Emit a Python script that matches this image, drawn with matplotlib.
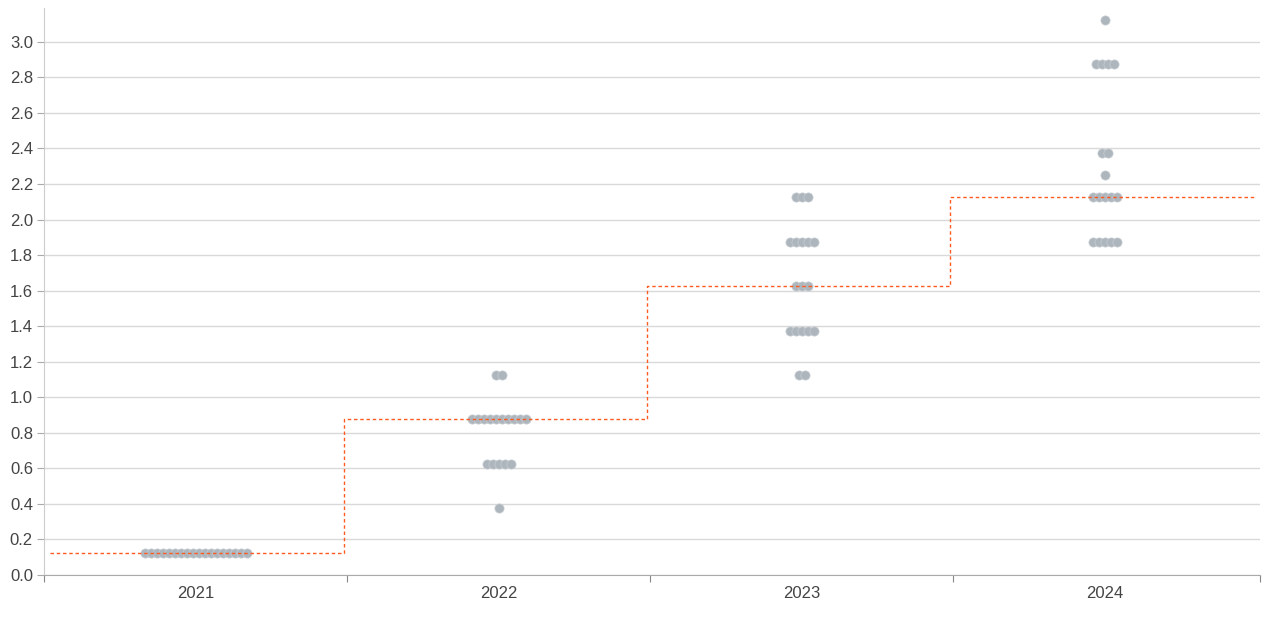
import matplotlib.pyplot as plt
import numpy as np
from matplotlib.ticker import FixedLocator, FormatStrFormatter

plt.rcParams['font.family'] = ['Liberation Sans', 'DejaVu Sans']

years = ['2021', '2022', '2023', '2024']
# projected rate levels and number of participants at each level
levels = [
    [0.125],
    [0.375, 0.625, 0.875, 1.125],
    [1.125, 1.375, 1.625, 1.875, 2.125],
    [1.875, 2.125, 2.25, 2.375, 2.875, 3.125],
]
counts = [
    [18],
    [1, 5, 10, 2],
    [2, 5, 3, 5, 3],
    [5, 5, 1, 2, 4, 1],
]
medians = [0.125, 0.875, 1.625, 2.125]

fig = plt.figure(figsize=(12.8, 6.19), dpi=100)
ax = fig.add_axes([0.0344, 0.0711, 1216 / 1280, 0.9160])

x_end = 3.513
dx = 0.0198  # horizontal spacing between stacked dots
for i in range(len(years)):
    for lv, n in zip(levels[i], counts[i]):
        xs = i + (np.arange(n) - (n - 1) / 2) * dx
        ax.scatter(xs, [lv] * n, s=44, c='#adb5bd', edgecolors='#c9ced3',
                   linewidths=0.5, zorder=3)

# median step line
edges = [-0.48] + [i + 0.49 for i in range(len(years) - 1)] + [3.5]
ax.step(edges, medians + [medians[-1]], where='post', color='#ff5a1f',
        lw=1.0, ls=(0, (2.5, 2)), zorder=4)

ax.set_xlim(-0.5, x_end)
ax.set_ylim(0, 3.19)
ax.xaxis.set_major_locator(FixedLocator([-0.5, 0.5, 1.5, 2.5, x_end]))
ax.set_xticklabels([])
ax.set_xticks(range(len(years)), minor=True)
ax.set_xticklabels(years, minor=True)
ax.tick_params(axis='x', which='minor', length=0, pad=8)
ax.tick_params(axis='x', which='major', length=5, color='#888888')
ax.set_yticks(np.arange(0, 3.01, 0.2))
ax.yaxis.set_major_formatter(FormatStrFormatter('%.1f'))
ax.tick_params(axis='y', length=5, color='#aaaaaa', pad=3)
ax.tick_params(which='both', labelsize=12, labelcolor='#444444')

ax.grid(axis='y', color='#d9d9d9', lw=1)
ax.set_axisbelow(True)
for s in ['top', 'right']:
    ax.spines[s].set_visible(False)
ax.spines['left'].set_color('#cccccc')
ax.spines['bottom'].set_color('#aaaaaa')

fig.savefig('out.png', dpi=100)
